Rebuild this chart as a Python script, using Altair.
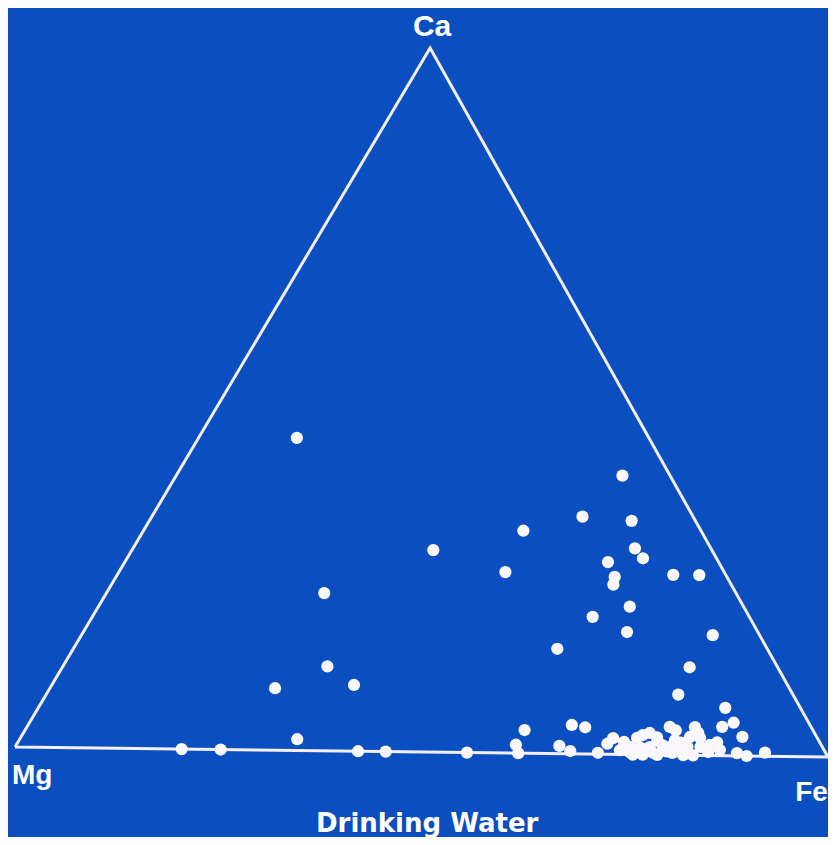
import math
import altair as alt
import pandas as pd

# Ternary compositions (percent): Ca and Fe; Mg = 100 - Ca - Fe
ca = [44.4, 28.7, 22.4, 12.0, 9.4, 8.8, 1.6, 39.6, 33.7, 33.2, 31.6, 29.3, 27.9, 27.3,
      25.7, 25.2, 24.1, 25.6, 25.6, 21.0, 19.5, 17.4, 14.9, 17.1, 12.5, 8.6,
      0, 0, 0, 0, 0, 1.2, 0, 3.3, 4.1, 3.8, 1.1, 0.4, 0.2,
      4.0, 2.3, 1.5, 2.4, 2.8, 3.1, 2.5, 1.1, 1.0, 1.1, 1.4, 1.2, 0.7, 0, 0, 0,
      6.8, 4.7, 4.1, 2.7, 4.0, 3.2, 2.6, 1.2, 1.2, 1.9, 0.8, 0.4, 0, 0.5, 0.5, 0, 0,
      0.6, 0.5, 1.5, 2.1,
      1.8, 0.3, 2.0, 0.3, 3.5, 1.8, 0.3, 2.5]
fe = [12.0, 36.8, 26.6, 32.3, 36.9, 27.5, 33.9, 54.5, 52.6, 58.9, 46.4, 61.3, 63.0, 59.0,
      47.2, 60.9, 61.3, 67.9, 71.1, 64.9, 61.1, 66.4, 59.1, 77.1, 76.6, 77.2,
      20.5, 25.3, 42.2, 45.6, 55.6, 61.0, 61.9, 61.0, 66.4, 68.2, 66.4, 68.1, 71.6,
      78.5, 72.4, 72.1, 75.3, 75.8, 76.5, 77.7, 75.1, 76.4, 77.5, 78.9, 80.0, 81.4, 76.0, 77.2, 79.0,
      83.9, 86.0, 84.9, 88.1, 81.6, 82.4, 81.7, 82.1, 83.7, 85.4, 86.3, 88.6, 90.0, 92.0, 85.0, 83.4, 82.2,
      74.1, 79.9, 84.7, 80.1,
      74.0, 75.5, 78.0, 78.3, 79.5, 81.0, 80.7, 83.0]

# Triangle corners (Ca, Fe) and labels
corner_names = ["Mg", "Fe", "Ca", "Mg"]
corner_ca = [0, 0, 100, 0]
corner_fe = [0, 100, 0, 0]

title_text = "Drinking Water"

H = math.sqrt(3) / 2
TILT = 0.0123  # the photographed slide is turned slightly clockwise


def proj(c, f):
    x = f / 100 + c / 200
    y = c / 100 * H
    return (x * math.cos(TILT) + y * math.sin(TILT),
            -x * math.sin(TILT) + y * math.cos(TILT))


pts = pd.DataFrame({"Ca": ca, "Fe": fe})
pts["Mg"] = 100 - pts["Ca"] - pts["Fe"]
pts["x"], pts["y"] = zip(*[proj(c, f) for c, f in zip(ca, fe)])

tri = pd.DataFrame({"name": corner_names, "Ca": corner_ca, "Fe": corner_fe,
                    "order": list(range(len(corner_names)))})
tri["x"], tri["y"] = zip(*[proj(c, f) for c, f in zip(corner_ca, corner_fe)])

W, Ht = 820, 829
side = 813.0
x0 = -7 / side
y_base = 739.0
xscale = alt.Scale(domain=[x0, x0 + W / side], nice=False, zero=False)
yscale = alt.Scale(domain=[-(Ht - y_base) / side, y_base / side], nice=False, zero=False)

X = alt.X("x:Q", scale=xscale, axis=None)
Y = alt.Y("y:Q", scale=yscale, axis=None)

line_color = "#f4eef6"
bg = "#0b4ebf"

triangle = alt.Chart(tri).mark_line(color=line_color, strokeWidth=3, strokeJoin="miter").encode(
    x=X, y=Y, order="order:O")

points = alt.Chart(pts).mark_circle(color="#fbf8fd", opacity=1, size=150).encode(
    x=X, y=Y, tooltip=["Ca:Q", "Fe:Q", "Mg:Q"])

font = "Liberation Sans"
lab_ca = alt.Chart(tri[tri.name == "Ca"]).mark_text(
    font=font, fontWeight="bold", fontSize=30, color="white", align="center",
    baseline="alphabetic", dy=-12, dx=2).encode(x=X, y=Y, text="name:N")
lab_mg = alt.Chart(tri.iloc[[0]]).mark_text(
    font=font, fontWeight="bold", fontSize=28, color="white", align="left",
    baseline="top", dy=15, dx=-3).encode(x=X, y=Y, text="name:N")
lab_fe = alt.Chart(tri[tri.name == "Fe"]).mark_text(
    font=font, fontWeight="bold", fontSize=28, color="white", align="right",
    baseline="top", dy=22, dx=0).encode(x=X, y=Y, text="name:N")

title_df = pd.DataFrame({"label": [title_text], "Ca": [0], "Fe": [50.7]})
title_df["x"], title_df["y"] = zip(*[proj(c, f) for c, f in zip(title_df.Ca, title_df.Fe)])
lab_title = alt.Chart(title_df).mark_text(
    font="DejaVu Sans", fontWeight="bold", fontSize=26, color="white", align="center",
    baseline="alphabetic", dy=80).encode(x=X, y=Y, text="label:N")

chart = alt.layer(triangle, points, lab_ca, lab_mg, lab_fe, lab_title).properties(
    width=W, height=Ht, background=bg, padding=0,
    autosize=alt.AutoSizeParams(type="none")
).configure_view(strokeWidth=0)

chart.save("out.html", embed_options={"renderer": "svg", "actions": False})
